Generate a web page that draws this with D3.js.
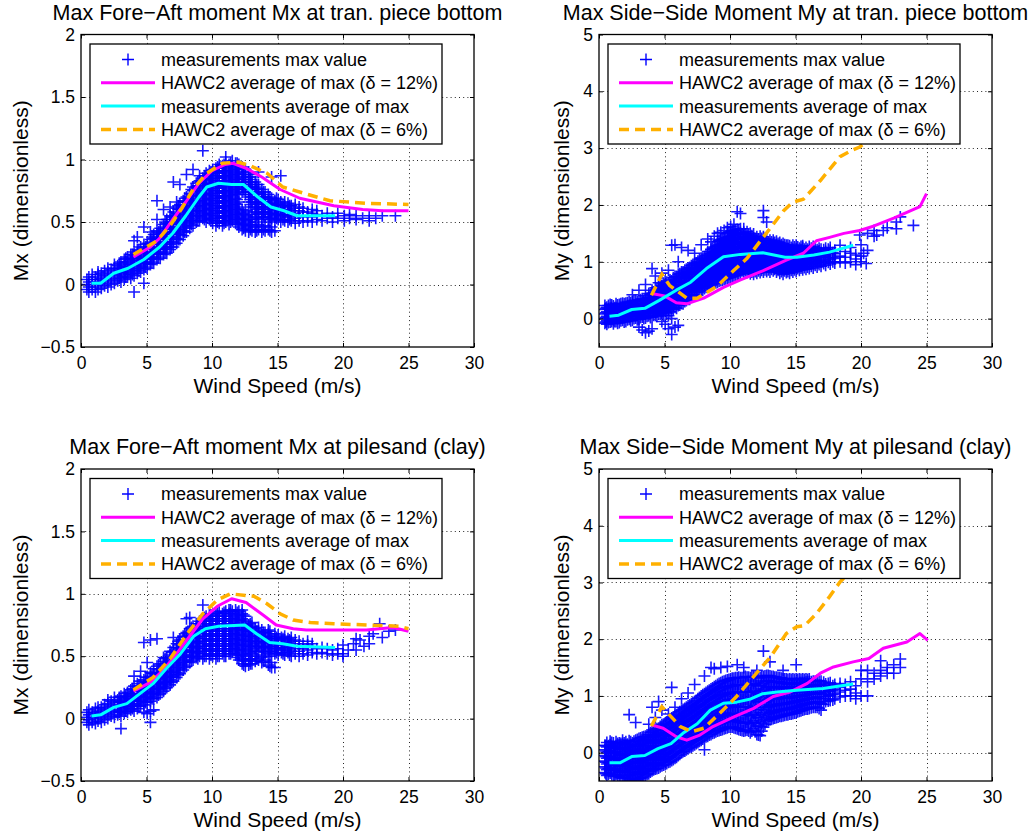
<!DOCTYPE html>
<html>
<head>
<meta charset="utf-8">
<script src="https://cdn.jsdelivr.net/npm/d3@7"></script>
<style>
  body { margin: 0; background: #fff; }
  svg { font-family: "Liberation Sans", Arial, Helvetica, sans-serif; }
</style>
</head>
<body>
<svg id="chart" width="1035" height="836"></svg>
<script>
// ---- axis ticks and labels ----
const windTicks = [0, 5, 10, 15, 20, 25, 30];
const mxTicks = [-0.5, 0, 0.5, 1, 1.5, 2];
const myTicks = [0, 1, 2, 3, 4, 5];
const legendLabels = [
  "measurements max value",
  "HAWC2 average of max (\u03b4 = 12%)",
  "measurements average of max",
  "HAWC2 average of max (\u03b4 = 6%)"
];
const panelTitles = [
  "Max Fore\u2212Aft moment Mx at tran. piece bottom",
  "Max Side\u2212Side Moment My at tran. piece bottom",
  "Max Fore\u2212Aft moment Mx at pilesand (clay)",
  "Max Side\u2212Side Moment My at pilesand (clay)"
];

// ---- measured 10-min maxima ----
// each row: [wind speed (m/s), moment values in hundredths ...]
const mxTranCloud = [
  [0.45,-4,0,4],[0.6,-6,-2,2,6],[0.85,-4,0,4,8],[1.1,-6,-2,2,6],[1.3,-4,0,4,8,10],
  [1.55,-3,1,5,9],[1.8,-1,3,7,11],[2.05,-2,2,6,10,13],[2.3,0,4,8,12],[2.55,1,5,9,13,16],
  [2.8,3,7,11,15],[3.05,2,6,10,14,18],[3.3,4,8,12,16,20],[3.55,6,10,14,18,22],
  [3.8,5,9,13,17,21,24],[4.05,7,11,15,19,23,26,-6,35],[4.3,9,13,17,21,25,28,38],
  [4.55,10,14,18,22,26,30],[4.8,12,16,20,24,28,32,46,1],[5.05,13,17,21,25,29,33],
  [5.3,16,20,24,28,32,36,42],[5.55,17,21,25,29,33,37,40],[5.8,20,24,28,32,36,40,43,52,67],
  [6.05,21,25,29,33,37,41,45],[6.3,24,28,32,36,40,44,48,60],[6.55,25,29,33,37,41,45,49,52],
  [6.8,28,32,36,40,44,48,52,55,62],[7.05,30,34,38,42,46,50,54,58,82],
  [7.3,33,37,41,45,49,53,57,61,66],[7.55,36,40,44,48,52,56,60,64,80],
  [7.8,39,43,47,51,55,59,63,67],[8.05,42,46,50,54,58,62,66,70,88],
  [8.3,45,49,53,57,61,65,69,73],[8.55,47,51,55,59,63,67,71,75,78,92],
  [8.8,50,54,58,62,66,70,74,78,81],[9.05,51,55,59,63,67,71,75,79,83,87],
  [9.3,53,57,61,65,69,73,77,81,85,107],[9.55,50,54,58,62,66,70,74,78,82,86,89],
  [9.8,52,56,60,64,68,72,76,80,84,88,91],[10.05,49,53,57,61,65,69,73,77,81,85,89,92],
  [10.3,47,51,55,59,63,67,71,75,79,83,87,91,93],[10.55,49,53,57,61,65,69,73,77,81,85,89,93,96],
  [10.8,47,51,55,59,63,67,71,75,79,83,87,91,95],[11.05,50,54,58,62,66,70,74,78,82,86,90,94,98,102],
  [11.3,48,52,56,60,64,68,72,76,80,84,88,92,96],[11.55,51,55,59,63,67,71,75,79,83,87,91,95,99],
  [11.8,49,53,57,61,65,69,73,77,81,85,89,93,97],[12.05,46,50,54,58,62,66,72,76,80,84,88,92,96],
  [12.3,44,48,52,56,60,74,78,82,86,90,94],[12.55,43,47,51,55,59,72,76,80,84,88,92],
  [12.8,42,46,50,54,58,66,70,74,78,82,86,90],[13.05,43,47,52,56,62,66,70,74,78,82,86],
  [13.3,42,46,54,58,62,66,70,74,78,82],[13.55,44,48,53,57,61,65,69,73,77,80,90],
  [13.8,42,46,52,56,60,64,68,72,76],[14.05,43,47,54,58,62,66,70,74],
  [14.3,44,52,56,60,64,68,72],[14.55,42,46,53,57,61,65,69,86],[14.8,43,51,55,59,63,67],
  [15.05,52,56,60,64,68],[15.25,50,54,58,62,66,87],[15.55,51,55,59,63,66],[15.8,50,54,58,62,65],
  [16.05,51,55,59,63],[16.35,49,53,57,61,64],[16.65,51,55,59,62],[16.95,50,54,58,61],
  [17.3,51,55,58],[17.65,50,54,57,60],[18,52,56,59],[18.4,51,55],[18.8,53,57],[19.2,50,54],
  [19.6,53,57],[20.1,51,55],[20.5,53,56],[21,52,55],[21.5,53],[22,51,55],[22.5,53],[23,55],[24,55],
  [2.92,5,9,13,17],[3.42,6,10,14,18,21],[3.92,8,12,16,20,24],[4.42,11,15,19,23,27],
  [4.92,14,18,22,26,30],[5.42,18,22,26,30,34,38],[5.92,22,26,30,34,38,42],
  [6.42,26,30,34,38,42,46,50],[6.92,30,34,38,42,46,50,54],[7.42,36,40,44,48,52,56,60,63],
  [7.92,42,46,50,54,58,62,66,69],[8.42,48,52,56,60,64,68,72,76],
  [8.92,51,55,59,63,67,71,75,79,82],[9.42,52,56,60,64,68,72,76,80,84,87],
  [9.92,51,55,59,63,67,71,75,79,83,87,90],[10.42,50,54,58,62,66,70,74,78,82,86,90,94],
  [10.92,49,53,57,61,65,69,73,77,81,85,89,93,96],[11.42,50,54,58,62,66,70,74,78,82,86,90,94,97],
  [11.92,48,52,56,60,64,68,74,78,82,86,90,94,97],[12.42,45,49,53,57,76,80,84,88,92],
  [12.92,44,48,52,64,68,72,76,80,84,88],[13.42,43,50,56,60,64,68,72,76,80],
  [13.92,44,54,58,62,66,70,74],[14.42,43,50,54,58,62,66,70],[14.92,53,57,61,65,69],
  [15.42,52,56,60,64],[15.92,52,56,60,63]
];
const myTranCloud = [
  [0.45,-8,0,8,16,23],[0.6,-10,-4,4,12,20],[0.85,-6,2,10,18,25],[1.1,-9,-2,6,14,22],
  [1.3,-5,3,11,19,26],[1.55,-7,1,9,17,25],[1.8,-3,5,13,21,27],[2.05,-5,3,11,19,27],
  [2.3,-1,7,15,23,30],[2.55,-3,5,13,21,29,42],[2.8,1,9,17,25,32],[3.05,-15,-1,7,15,23,31,50],
  [3.3,-20,3,11,19,27,35],[3.55,-25,1,9,17,25,33,40,60],[3.8,-22,5,13,21,29,37,44],
  [4.05,-18,3,11,19,27,35,43,50,88],[4.3,6,14,22,30,38,46,54,75],[4.55,8,16,24,32,40,48,56,63],
  [4.8,-5,10,18,26,34,42,50,58,80],[5.05,-10,12,20,28,36,44,52,60,66],
  [5.3,-18,5,15,23,31,39,47,55,63,85],[5.55,-28,0,18,26,34,42,50,58,66,129],
  [5.8,-15,20,28,36,44,52,60,68,74,130],[6.05,-12,23,31,39,47,55,63,71,78,100],
  [6.3,27,35,43,51,59,67,75,82,125],[6.55,30,38,46,54,62,70,78,85],
  [6.8,34,42,50,58,66,74,82,89,120],[7.05,38,46,54,62,70,78,86,93],
  [7.3,42,50,58,66,74,82,90,97,115],[7.55,46,54,62,70,78,86,94,101],
  [7.8,50,58,66,74,82,90,98,106,130],[8.05,53,61,69,77,85,93,101,109],
  [8.3,56,64,72,80,88,96,104,112,118,140],[8.55,59,67,75,83,91,99,107,115,122,135],
  [8.8,62,70,78,86,94,102,110,118,126,145],[9.05,64,72,80,88,96,104,112,120,128,136,150],
  [9.3,67,75,83,91,99,107,115,123,131,139,152],[9.55,69,77,85,93,101,109,117,125,133,141,155],
  [9.8,71,79,87,95,103,111,119,127,135,143,150,160],
  [10.05,73,81,89,97,105,113,121,129,137,145,153,162],
  [10.3,75,83,91,99,107,115,123,131,139,147,155,166],
  [10.55,77,85,93,101,109,117,125,133,141,149,157,188],
  [10.8,79,87,95,103,111,119,127,135,143,151,158,185],
  [11.05,80,88,96,104,112,120,128,136,144,152,158],[11.3,81,89,97,105,113,121,129,137,145,153],
  [11.55,79,87,95,103,111,119,127,135,143,150],[11.8,78,86,94,102,110,118,126,134,142,149],
  [12.05,80,88,96,104,112,120,128,136,144],[12.3,81,89,97,105,113,121,129,137,145],
  [12.55,82,90,98,106,114,122,130,138,144,178,190],[12.8,83,91,99,107,115,123,131,139,170],
  [13.05,82,90,98,106,114,122,130,138],[13.3,84,92,100,108,116,124,132,138],
  [13.55,82,90,98,106,114,122,130,136],[13.8,80,88,96,104,112,120,128,134],
  [14.05,78,86,94,102,110,118,126,132],[14.3,81,89,97,105,113,121,129],
  [14.55,80,88,96,104,112,120,128],[14.8,82,90,98,106,114,122,129],
  [15.05,83,91,99,107,115,123,129],[15.3,85,93,101,109,117,124],
  [15.55,86,94,102,110,118,125,128],[15.8,87,95,103,111,119,125],
  [16.05,88,96,104,112,120,127],[16.35,89,97,105,113,121,127],[16.65,91,99,107,115,121],
  [16.95,92,100,108,116,122],[17.3,94,102,110,118,124],[17.65,96,104,112,120,125],
  [18,98,106,114,120],[18.4,100,110,129],[18.8,98,108,118],[19.2,100,115,125],[19.6,95,105,112],
  [19.9,147],[20,100,110,130],[20.2,115],[20.4,97],[20.5,120,150],[21,145,155],[21.2,147],
  [21.7,155],[22,160],[22.7,158,170],[23,179],[24,164],
  [0.52,-6,2,10,18],[0.72,-7,1,9,17,23],[0.97,-5,3,11,19,24],[1.2,-5,3,11,19],
  [1.42,-8,0,8,16,24],[1.67,-4,4,12,20,26],[1.92,-6,2,10,18,26],[2.17,-2,6,14,22,28],
  [2.42,-4,4,12,20,28],[2.67,0,8,16,24,31],[2.92,-2,6,14,22,30],[3.17,2,10,18,26,33],
  [3.42,0,8,16,24,32],[3.67,4,12,20,28,36],[3.92,2,10,18,26,34,42],[4.17,6,14,22,30,38,46],
  [4.42,4,12,20,28,36,44,52],[4.67,8,16,24,32,40,48,56],[4.92,6,14,22,30,38,46,54,62],
  [5.17,10,18,26,34,42,50,58,64],[5.42,12,20,28,36,44,52,60,68],[5.67,16,24,32,40,48,56,64,72],
  [5.92,18,26,34,42,50,58,66,74],[6.17,24,32,40,48,56,64,72,79],[6.42,26,34,42,50,58,66,74,82],
  [6.67,32,40,48,56,64,72,80,87],[6.92,34,42,50,58,66,74,82,90],[7.17,40,48,56,64,72,80,88,95],
  [7.42,42,50,58,66,74,82,90,98],[7.67,48,56,64,72,80,88,96,104],[7.92,50,58,66,74,82,90,98,106],
  [8.17,55,63,71,79,87,95,103,111],[8.42,58,66,74,82,90,98,106,114],
  [8.67,60,68,76,84,92,100,108,116,124],[8.92,63,71,79,87,95,103,111,119,127],
  [9.17,66,74,82,90,98,106,114,122,130,138],[9.42,68,76,84,92,100,108,116,124,132,140],
  [9.67,70,78,86,94,102,110,118,126,134,142],[9.92,72,80,88,96,104,112,120,128,136,144,152],
  [10.17,74,82,90,98,106,114,122,130,138,146,154],[10.42,76,84,92,100,108,116,124,132,140,148,156],
  [10.67,78,86,94,102,110,118,126,134,142,150,156],[10.92,84,92,100,108,116,124,132,140,148],
  [11.17,84,92,100,108,116,124,132,140,148],[11.42,84,92,100,108,116,124,132,140,147],
  [11.67,82,90,98,106,114,122,130,138,146],[11.92,83,91,99,107,115,123,131,139],
  [12.17,84,92,100,108,116,124,132,140],[12.42,85,93,101,109,117,125,133,141],
  [12.67,86,94,102,110,118,126,134,141],[12.92,86,94,102,110,118,126,134],
  [13.17,87,95,103,111,119,127,135],[13.42,87,95,103,111,119,127,134],
  [13.67,85,93,101,109,117,125,132],[13.92,83,91,99,107,115,123,130],
  [14.17,84,92,100,108,116,124,130],[14.42,83,91,99,107,115,123,129],
  [14.67,85,93,101,109,117,125],[14.92,86,94,102,110,118,126],
  [15.17,88,96,104,112,120,126],[15.42,89,97,105,113,121,127],[15.67,90,98,106,114,122],
  [15.92,91,99,107,115,122],[16.2,92,100,108,116,124],[16.5,94,102,110,118,124],
  [16.8,95,103,111,119,124],[17.15,97,105,113,121],[17.5,99,107,115,122],[17.85,100,108,116]
];
const mxPileCloud = [
  [0.45,-3,1,5],[0.6,-5,-1,3,7],[0.85,-3,1,5],[1.1,-4,0,4,8],[1.3,-2,2,6,9],[1.55,-3,1,5,9],
  [1.8,-1,3,7,11],[2.05,0,4,8,12,15],[2.3,2,6,10,14],[2.55,1,5,9,13,17],[2.8,3,7,11,15],
  [3.05,2,6,10,14,18,-8],[3.3,4,8,12,16,20],[3.55,5,9,13,17,21],[3.8,7,11,15,19,23],
  [4.05,6,10,14,18,22,26,34],[4.3,8,12,16,20,24,28],[4.55,10,14,18,22,26,30,38],
  [4.8,5,11,15,19,23,27,31,61],[5.05,4,13,17,21,25,29,33,45],
  [5.3,-3,6,14,18,22,26,30,34,37,63],[5.55,7,16,20,24,28,32,36,40],[5.8,17,21,25,29,33,37,42,64],
  [6.05,20,24,28,32,36,40,44],[6.3,22,26,30,34,38,42,46,49],[6.55,25,29,33,37,41,45,49],
  [6.8,27,31,35,39,43,47,51,54],[7.05,30,34,38,42,46,50,54,57,65],[7.3,33,37,41,45,49,53,57,60],
  [7.55,36,40,44,48,52,56,60,63],[7.8,39,43,47,51,55,59,63,66],[8.05,42,46,50,54,58,62,66,69,80],
  [8.3,45,49,53,57,61,65,69,72,81],[8.55,47,51,55,59,63,67,71,74],[8.8,49,53,57,61,65,69,73,76],
  [9.05,50,54,58,62,66,70,74,78],[9.3,48,52,56,60,64,68,72,76,80,91],
  [9.55,50,54,58,62,66,70,74,78,82],[9.8,48,52,56,60,64,68,72,76,80,84],
  [10.05,50,54,58,62,66,70,74,78,82],[10.3,48,52,56,60,64,68,72,76,80,84],
  [10.55,50,54,58,62,66,70,74,78,82,86],[10.8,52,56,60,64,68,72,76,80,84],
  [11.05,50,54,58,62,66,70,74,78,82,86],[11.3,52,56,60,64,68,72,76,80,84,87],
  [11.55,54,58,62,66,70,74,78,82,86],[11.8,51,55,59,63,67,71,75,79,83,87],
  [12.05,47,51,55,59,63,67,71,75,79,83,86],[12.3,44,48,52,56,60,64,68,72,76,80,84,87],
  [12.55,42,46,50,54,58,62,66,70,74,78,82],[12.8,43,47,51,55,59,63,67,71,75],
  [13.05,44,48,52,58,62,66,70,74,77],[13.3,46,50,56,60,64,68,72],[13.55,47,54,58,62,66,70,73],
  [13.8,45,49,55,59,63,67,71],[14.05,47,53,57,61,65,69],[14.3,43,52,56,60,64,68,71],
  [14.55,41,45,54,58,62,66],[14.8,41,52,56,60,64,68],[15.05,51,55,59,63,67],[15.3,53,57,61,65],
  [15.55,51,55,59,63,66],[15.8,53,57,61,64],[16.05,50,54,58,62,65],[16.35,52,56,60,63],
  [16.65,50,54,58,62],[16.95,52,56,60],[17.3,51,55,59,62],[17.65,53,57,60],[18,52,56],
  [18.4,53,57],[18.8,52,56],[19.2,51,55],[19.6,52,56],[20,50,52,59],[20.4,55],[20.8,60],
  [21,55,64],[21.3,63],[21.6,58],[22,60,66],[22.3,68],[22.8,76],[23,65],[23.5,70],[24,71],
  [2.92,5,9,13,17],[3.42,6,10,14,18],[3.92,8,12,16,20,24],[4.42,10,14,18,22,26],
  [4.92,13,17,21,25,29,33],[5.42,16,20,24,28,32,36],[5.92,19,23,27,31,35,39,43],
  [6.42,24,28,32,36,40,44,48],[6.92,29,33,37,41,45,49,53],[7.42,35,39,43,47,51,55,59,62],
  [7.92,41,45,49,53,57,61,65,68],[8.42,46,50,54,58,62,66,70,73],[8.92,48,52,56,60,64,68,72,76],
  [9.42,50,54,58,62,66,70,74,78,81],[9.92,51,55,59,63,67,71,75,79,83],
  [10.42,50,54,58,62,66,70,74,78,82,85],[10.92,50,54,58,62,66,70,74,78,82,85],
  [11.42,52,56,60,64,68,72,76,80,84,87],[11.92,49,53,57,61,65,69,73,77,81,85],
  [12.42,43,47,51,55,59,63,67,71,75,79,83],[12.92,44,48,53,57,61,65,69,73,76],
  [13.42,48,54,58,62,66,70],[13.92,46,51,57,61,65,69],[14.42,42,50,54,58,62,66,70],
  [14.92,53,57,61,65],[15.42,52,56,60,64],[15.92,51,55,59,63]
];
const myPileCloud = [
  [0.45,-35,-25,-15,-5,5,13],[0.6,-40,-30,-20,-10,0,10,18],[0.85,-36,-26,-16,-6,4,14,20],
  [1.1,-42,-32,-22,-12,-2,8,17],[1.3,-38,-28,-18,-8,2,12,19],[1.55,-43,-33,-23,-13,-3,7,17],
  [1.8,-45,-35,-25,-15,-5,5,15,22],[2.05,-41,-31,-21,-11,-1,9,19],
  [2.3,-48,-38,-28,-18,-8,2,12,21,67],[2.55,-52,-43,-33,-23,-13,-3,7,17],
  [2.8,-50,-39,-29,-19,-9,1,11,22,53],[3.05,-46,-36,-26,-16,-6,4,14,25],
  [3.3,-44,-34,-24,-14,-4,6,16,27],[3.55,-40,-30,-20,-10,0,10,20,29],
  [3.8,-37,-27,-17,-7,3,13,23,32,50],[4.05,-32,-22,-12,-2,8,18,28,37,80],
  [4.3,-29,-19,-9,1,11,21,31,41,62],[4.55,-27,-17,-7,3,13,23,33,43,90],
  [4.8,-23,-13,-3,8,18,29,39,49,75],[5.05,-21,-10,0,11,21,32,42,52],
  [5.3,-17,-7,4,14,25,35,46,56,68],[5.55,-14,-3,8,19,30,41,51,61,115],
  [5.8,-10,1,12,23,34,45,55,65,80],[6.05,-5,6,17,28,39,50,60,70],
  [6.3,0,10,21,32,43,54,64,74,95],[6.55,3,14,25,36,47,58,68,78],
  [6.8,7,18,29,40,51,62,72,82,105],[7.05,10,21,32,44,55,66,76,86],
  [7.3,14,25,36,48,59,70,80,90,120],[7.55,18,29,40,52,63,74,84,95],
  [7.8,22,33,44,56,67,78,89,100],[8.05,5,26,37,48,60,71,82,93,104,135],
  [8.3,29,40,52,64,75,86,97,108],[8.55,32,44,56,68,79,90,101,112,150],
  [8.8,35,47,59,71,83,94,105,116,148],[9.05,38,50,62,74,86,97,108,120],
  [9.3,40,52,64,76,88,100,111,123,150],[9.55,42,54,66,78,90,102,114,126],
  [9.8,44,56,68,80,92,104,116,128,152],[10.05,45,57,69,81,93,105,117,130],
  [10.3,44,57,69,82,94,106,118,131],[10.55,42,55,68,81,94,106,119,132,155],
  [10.8,40,53,67,80,93,106,119,132],[11.05,38,52,66,80,93,106,119,133,150],
  [11.3,40,54,67,81,94,107,120,133],[11.55,35,50,64,78,92,106,119,132],
  [11.8,42,56,70,83,96,109,122,134],[12.05,32,47,62,76,90,104,118,132,145],
  [12.3,30,46,61,76,90,104,118,132],[12.55,45,58,71,84,97,110,122,134,179],
  [12.8,55,67,79,91,103,115,126,136],[13.05,58,70,82,94,105,116,126,135,160],
  [13.3,60,71,83,94,105,116,125,134],[13.55,62,73,84,95,105,115,124,133],
  [13.8,64,75,85,96,106,115,124,132],[14.05,65,76,86,96,106,115,123,130,145],
  [14.3,67,77,87,97,106,115,123,130],[14.55,68,78,88,97,106,114,122,130],
  [14.8,69,79,89,98,107,115,122,130],[15.05,70,80,90,99,107,115,123,130,155],
  [15.3,73,83,92,100,108,116,123,130],[15.55,75,85,93,101,109,116,123,130],
  [15.8,77,86,94,102,110,117,124,130],[16.05,78,87,95,103,111,118,125,130],
  [16.35,80,89,97,105,112,119,126],[16.65,80,90,98,106,113,120,127],
  [16.95,75,86,95,104,112,119,126],[17.3,90,99,107,114,121],[17.65,92,101,109,116,123],
  [18,95,104,112,120],[18.4,98,107,115,122],[18.8,100,110,120],[19.2,100,112,125],
  [19.6,95,105,118],[20,100,130,145],[20.5,100,125,145],[21,130,140],[21.5,135,145,162],
  [22,140,150],[22.5,140,155],[23,150,165],
  [0.52,-37,-27,-17,-7,3,12],[0.72,-38,-28,-18,-8,2,12],[0.97,-39,-29,-19,-9,1,11,18],
  [1.2,-40,-30,-20,-10,0,10],[1.42,-41,-31,-21,-11,-1,9,16],[1.67,-44,-34,-24,-14,-4,6,16],
  [1.92,-43,-33,-23,-13,-3,7,17],[2.17,-45,-35,-25,-15,-5,5,15],
  [2.42,-50,-40,-30,-20,-10,0,10,19],[2.67,-46,-36,-26,-16,-6,4,14,20],
  [2.92,-48,-38,-28,-18,-8,2,12,23],[3.17,-45,-35,-25,-15,-5,5,15,26],
  [3.42,-42,-32,-22,-12,-2,8,18,28],[3.67,-38,-28,-18,-8,2,12,22,31],
  [3.92,-34,-24,-14,-4,6,16,26,35],[4.17,-30,-20,-10,0,10,20,30,39],
  [4.42,-28,-18,-8,2,12,22,32,42],[4.67,-25,-14,-4,6,16,26,36,46],
  [4.92,-22,-11,-1,10,20,30,41,50],[5.17,-19,-8,2,13,23,34,44,54],
  [5.42,-16,-5,6,17,28,38,49,59],[5.67,-12,-1,10,21,32,43,53,63],
  [5.92,-8,3,14,25,36,47,57,67],[6.17,-3,8,19,30,41,52,62,72],
  [6.42,2,12,23,34,45,56,66,76],[6.67,5,16,27,38,49,60,70,80],
  [6.92,9,20,31,42,53,64,74,84],[7.17,12,23,34,46,57,68,78,88],
  [7.42,16,27,38,50,61,72,82,92],[7.67,20,31,42,54,65,76,86,97],
  [7.92,24,35,46,58,69,80,91,102],[8.17,28,39,50,62,73,84,95,106],
  [8.42,31,42,54,66,77,88,99,110],[8.67,34,46,58,70,81,92,103,114],
  [8.92,37,49,61,73,85,96,107,118],[9.17,39,51,63,75,87,99,110,122],
  [9.42,41,53,65,77,89,101,113,125],[9.67,43,55,67,79,91,103,115,127],
  [9.92,45,57,69,81,93,105,117,129],[10.17,45,58,70,82,94,106,118,131],
  [10.42,43,56,69,82,95,107,120,132],[10.67,41,54,68,81,94,107,120,133],
  [10.92,39,53,67,80,93,106,119,132],[11.17,39,53,67,81,94,107,120,134],
  [11.42,38,52,66,80,93,107,120,133],[11.67,38,53,67,81,94,108,121,134],
  [11.92,37,52,66,80,93,107,120,133],[12.17,31,47,62,76,90,104,118,132],
  [12.42,38,52,66,80,94,108,121,134],[12.67,50,63,75,88,100,112,124,135],
  [12.92,57,69,81,93,104,115,126,136],[13.17,59,71,83,94,105,115,125,134],
  [13.42,61,72,83,94,105,115,124,133],[13.67,63,74,85,95,105,115,124,132],
  [13.92,64,75,86,96,106,115,123,131],[14.17,66,76,86,96,106,115,123,130],
  [14.42,67,77,87,97,106,114,122,129],[14.67,68,78,88,97,106,114,122,129],
  [14.92,70,80,89,98,107,115,122,129],[15.17,72,81,91,99,108,115,122,129],
  [15.42,74,83,92,100,108,116,123,129],[15.67,76,85,93,101,109,116,123,129],
  [15.92,77,86,94,102,110,117,124,129],[16.2,79,88,96,104,111,118,125],
  [16.5,80,89,97,105,112,119,126],[16.8,78,88,96,105,112,119,126],
  [17.15,85,95,103,111,118,124],[17.5,91,100,108,115,122],[17.85,93,102,110,118]
];

// ---- averaged curves: [wind speed (m/s), moment] ----
const mxTranMeasAvg = [[0.8,0.01],[1.5,0.01],[2.5,0.09],[3.6,0.13],[4.8,0.2],[6,0.3],[7,0.41],[8,0.55],[9,0.7],[9.6,0.78],[10.5,0.81],[11.5,0.8],[12.4,0.8],[13.5,0.7],[14.5,0.62],[15.5,0.59],[16.5,0.55],[19.4,0.55]];
const mxTranHawc12 = [[4,0.22],[5.3,0.3],[6,0.37],[7,0.52],[8,0.66],[9,0.81],[10,0.91],[11,0.96],[11.6,0.97],[12.6,0.93],[13.8,0.86],[15.2,0.76],[16.7,0.69],[18,0.66],[19.3,0.63],[21.5,0.6],[23,0.59],[25,0.59]];
const mxTranHawc6 = [[4,0.24],[5.8,0.35],[6.8,0.47],[7.7,0.61],[8.6,0.77],[9.6,0.89],[10.8,0.97],[12,0.98],[12.9,0.95],[14.2,0.89],[15.4,0.78],[17,0.73],[19,0.67],[21.8,0.65],[25,0.64]];

const myTranMeasAvg = [[0.8,0.04],[1.5,0.06],[2.5,0.16],[3.5,0.18],[4.6,0.32],[5.9,0.5],[7,0.64],[8.2,0.88],[9.5,1.09],[10.8,1.13],[12.5,1.16],[14.2,1.08],[15.1,1.08],[16.4,1.12],[17.6,1.17],[19.4,1.29]];
const myTranHawc12 = [[4,0.44],[5,0.4],[5.9,0.28],[6.7,0.26],[8,0.36],[9.5,0.55],[10.8,0.68],[12.5,0.84],[14.3,1.03],[15.6,1.15],[16.6,1.37],[17.6,1.43],[18.7,1.5],[19.9,1.55],[21,1.63],[22.5,1.77],[24.5,1.97],[25,2.2]];
const myTranHawc6 = [[4,0.41],[4.8,0.78],[5.4,0.58],[6.7,0.36],[7.5,0.36],[9,0.57],[10.3,0.85],[11.3,1.06],[12.5,1.42],[14.1,1.9],[14.8,2.05],[15.6,2.1],[16.9,2.43],[18.4,2.85],[19.3,2.96],[19.9,3.02],[22,3.4],[25,3.9]];

const mxPileMeasAvg = [[0.8,0.02],[1.5,0.03],[2.5,0.09],[3.5,0.12],[4.5,0.2],[5.5,0.28],[6.5,0.4],[7.6,0.52],[8.6,0.66],[9.5,0.72],[10.5,0.74],[12.5,0.75],[13.4,0.68],[14.4,0.61],[15.4,0.6],[16.5,0.58],[19.4,0.57]];
const mxPileHawc12 = [[4,0.22],[5.3,0.29],[6.3,0.39],[7.3,0.52],[8.3,0.66],[9.3,0.8],[10.4,0.9],[11.5,0.96],[12.6,0.93],[13.9,0.83],[14.9,0.75],[16.2,0.72],[17.2,0.71],[21.8,0.71],[23.8,0.73],[25,0.7]];
const mxPileHawc6 = [[4,0.23],[5.5,0.33],[6.8,0.48],[8.1,0.68],[9.3,0.84],[10.4,0.95],[11.4,1],[13.2,0.98],[14.2,0.92],[15.2,0.84],[16.2,0.79],[17.5,0.77],[19.3,0.76],[21.8,0.75],[24.3,0.74],[25,0.72]];

const myPileMeasAvg = [[0.8,-0.18],[1.6,-0.18],[2.5,-0.07],[3.5,-0.05],[4.5,0.07],[5.5,0.16],[6.4,0.34],[7.5,0.51],[8.5,0.75],[9.5,0.87],[10.5,0.89],[11.5,0.94],[12.5,1.04],[13.6,1.07],[15.1,1.1],[17.1,1.13],[19.4,1.21]];
const myPileHawc12 = [[4,0.49],[4.9,0.43],[5.9,0.28],[6.7,0.22],[7.7,0.31],[8.7,0.46],[10.3,0.63],[11.8,0.78],[13.3,0.99],[14.6,1.07],[15.9,1.22],[16.9,1.4],[17.9,1.51],[19.4,1.6],[20.6,1.66],[21.7,1.84],[23.5,1.95],[24.5,2.1],[25.1,1.98]];
const myPileHawc6 = [[4,0.47],[4.8,0.81],[6.2,0.46],[7.1,0.37],[8,0.43],[9.2,0.69],[10.5,0.99],[11.8,1.34],[13.1,1.69],[14.3,2.1],[15.1,2.22],[15.7,2.24],[16.6,2.45],[17.6,2.75],[18.4,3.01],[18.8,3.1],[21,3.5],[25,4]];

// ---- figure layout ----
const COLORS = { marker: "#0000ff", hawc12: "#ff00ff", meas: "#00ffff", hawc6: "#ffb000" };

const panels = [
  { title: panelTitles[0], ylabel: "Mx (dimensionless)", yDomain: [-0.5, 2], yTicks: mxTicks,
    cloud: mxTranCloud, meas: mxTranMeasAvg, h12: mxTranHawc12, h6: mxTranHawc6,
    box: { l: 81, r: 474, t: 34.5, b: 347 }, titleY: 19.5, xlabelY: 393, ylabelX: 28 },
  { title: panelTitles[1], ylabel: "My (dimensionless)", yDomain: [-0.5, 5], yTicks: myTicks,
    cloud: myTranCloud, meas: myTranMeasAvg, h12: myTranHawc12, h6: myTranHawc6,
    box: { l: 599, r: 992, t: 34.5, b: 347 }, titleY: 19.5, xlabelY: 393, ylabelX: 569 },
  { title: panelTitles[2], ylabel: "Mx (dimensionless)", yDomain: [-0.5, 2], yTicks: mxTicks,
    cloud: mxPileCloud, meas: mxPileMeasAvg, h12: mxPileHawc12, h6: mxPileHawc6,
    box: { l: 81, r: 474, t: 469, b: 781 }, titleY: 453.5, xlabelY: 827, ylabelX: 28 },
  { title: panelTitles[3], ylabel: "My (dimensionless)", yDomain: [-0.5, 5], yTicks: myTicks,
    cloud: myPileCloud, meas: myPileMeasAvg, h12: myPileHawc12, h6: myPileHawc6,
    box: { l: 599, r: 992, t: 469, b: 781 }, titleY: 453.5, xlabelY: 827, ylabelX: 569 }
];

const svg = d3.select("#chart");
const fmt = v => (v < 0 ? "\u2212" + Math.abs(v) : String(v));
const MARK = 6; // half-length of a '+' marker arm

panels.forEach((p, i) => {
  const { l, r, t, b } = p.box;
  const x = d3.scaleLinear().domain([0, 30]).range([l, r]);
  const y = d3.scaleLinear().domain(p.yDomain).range([b, t]);
  const g = svg.append("g");

  const clipId = "clip" + i;
  svg.append("defs").append("clipPath").attr("id", clipId)
    .append("rect").attr("x", l).attr("y", t).attr("width", r - l).attr("height", b - t);

  // dotted grid
  const grid = g.append("g").attr("stroke", "#000").attr("stroke-width", 1)
    .attr("stroke-dasharray", "1,3.2").attr("opacity", 0.85);
  grid.selectAll(".gx").data(windTicks.filter(v => v > 0 && v < 30)).join("line")
    .attr("x1", d => Math.round(x(d)) + 0.5).attr("x2", d => Math.round(x(d)) + 0.5)
    .attr("y1", t).attr("y2", b);
  grid.selectAll(".gy").data(p.yTicks.filter(v => v > p.yDomain[0] && v < p.yDomain[1])).join("line")
    .attr("y1", d => Math.round(y(d)) + 0.5).attr("y2", d => Math.round(y(d)) + 0.5)
    .attr("x1", l).attr("x2", r);

  const plot = g.append("g").attr("clip-path", `url(#${clipId})`);

  // measured maxima as '+' markers
  const pts = p.cloud.flatMap(row => row.slice(1).map(v => [row[0], v / 100]));
  plot.append("g").attr("fill", "none").attr("stroke", COLORS.marker)
    .attr("stroke-width", 1.6).attr("stroke-opacity", 0.9)
    .selectAll("path").data(pts).join("path")
    .attr("d", d => {
      const cx = x(d[0]), cy = y(d[1]);
      return `M${cx - MARK},${cy}h${2 * MARK}M${cx},${cy - MARK}v${2 * MARK}`;
    });

  const line = d3.line().x(d => x(d[0])).y(d => y(d[1]));
  plot.append("path").datum(p.h12).attr("d", line).attr("fill", "none")
    .attr("stroke", COLORS.hawc12).attr("stroke-width", 3).attr("stroke-linejoin", "round");
  plot.append("path").datum(p.meas).attr("d", line).attr("fill", "none")
    .attr("stroke", COLORS.meas).attr("stroke-width", 3).attr("stroke-linejoin", "round");
  plot.append("path").datum(p.h6).attr("d", line).attr("fill", "none")
    .attr("stroke", COLORS.hawc6).attr("stroke-width", 3.5).attr("stroke-dasharray", "10,6");

  // axes with inward ticks on all four sides
  const xb = g.append("g").attr("transform", `translate(0,${b})`)
    .call(d3.axisBottom(x).tickValues(windTicks).tickSize(-4).tickPadding(10).tickFormat(fmt));
  const yl = g.append("g").attr("transform", `translate(${l},0)`)
    .call(d3.axisLeft(y).tickValues(p.yTicks).tickSize(-4).tickPadding(6).tickFormat(fmt));
  g.append("g").attr("transform", `translate(0,${t})`)
    .call(d3.axisTop(x).tickValues(windTicks).tickSize(-4).tickFormat(""));
  g.append("g").attr("transform", `translate(${r},0)`)
    .call(d3.axisRight(y).tickValues(p.yTicks).tickSize(-4).tickFormat(""));
  g.selectAll(".domain").remove();
  g.selectAll(".tick line").attr("stroke", "#000").attr("stroke-width", 1);
  [xb, yl].forEach(a => a.selectAll("text").attr("font-size", 17.5).attr("fill", "#000")
    .attr("font-family", "Liberation Sans, Arial, sans-serif"));

  // legend
  const lg = g.append("g").attr("transform", `translate(${l + 9},${t + 9.5})`);
  lg.append("rect").attr("width", 352).attr("height", 100).attr("fill", "#fff")
    .attr("stroke", "#000").attr("stroke-width", 1.3);
  const rowY = k => 15.5 + 23.3 * k;
  lg.append("path").attr("d", `M${38 - MARK},${rowY(0)}h${2 * MARK}M38,${rowY(0) - MARK}v${2 * MARK}`)
    .attr("stroke", COLORS.marker).attr("stroke-width", 1.4).attr("fill", "none");
  lg.append("line").attr("x1", 11).attr("x2", 65).attr("y1", rowY(1)).attr("y2", rowY(1))
    .attr("stroke", COLORS.hawc12).attr("stroke-width", 3);
  lg.append("line").attr("x1", 11).attr("x2", 65).attr("y1", rowY(2)).attr("y2", rowY(2))
    .attr("stroke", COLORS.meas).attr("stroke-width", 3);
  lg.append("line").attr("x1", 11).attr("x2", 65).attr("y1", rowY(3)).attr("y2", rowY(3))
    .attr("stroke", COLORS.hawc6).attr("stroke-width", 3.5).attr("stroke-dasharray", "10,6");
  lg.selectAll("text.lab").data(legendLabels).join("text")
    .attr("x", 71).attr("y", (d, k) => rowY(k)).attr("dy", "0.36em")
    .attr("font-size", 18).attr("fill", "#000").text(d => d);

  // frame
  g.append("rect").attr("x", l).attr("y", t).attr("width", r - l).attr("height", b - t)
    .attr("fill", "none").attr("stroke", "#000").attr("stroke-width", 1.3);

  // titles and axis labels
  g.append("text").attr("x", (l + r) / 2).attr("y", p.titleY).attr("text-anchor", "middle")
    .attr("font-size", 21.5).text(p.title);
  g.append("text").attr("x", (l + r) / 2).attr("y", p.xlabelY).attr("text-anchor", "middle")
    .attr("font-size", 21).text("Wind Speed (m/s)");
  g.append("text").attr("transform", `translate(${p.ylabelX},${(t + b) / 2}) rotate(-90)`)
    .attr("text-anchor", "middle").attr("font-size", 21).text(p.ylabel);
});
</script>
</body>
</html>
